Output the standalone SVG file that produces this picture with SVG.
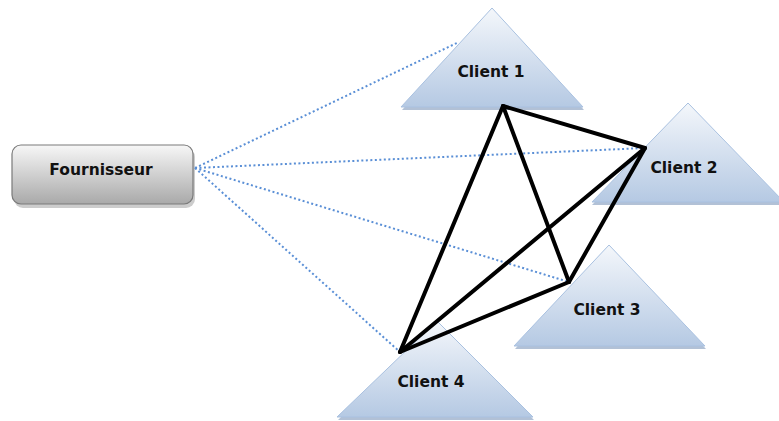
<svg xmlns="http://www.w3.org/2000/svg" width="779" height="421" viewBox="0 0 779 421">
<defs>
<linearGradient id="tri" x1="0" y1="0" x2="0" y2="1">
<stop offset="0" stop-color="#f4f7fb"/>
<stop offset="1" stop-color="#b5c9e3"/>
</linearGradient>
<linearGradient id="box" x1="0" y1="0" x2="0" y2="1">
<stop offset="0" stop-color="#f7f7f7"/>
<stop offset="1" stop-color="#a9a9a9"/>
</linearGradient>
</defs>
<style>
.t{fill:url(#tri);stroke:#a9c1e0;stroke-width:1}
.sh{fill:#9fb2cc;opacity:0.8}
.lbl{font-family:"DejaVu Sans",Verdana,sans-serif;font-weight:bold;font-size:15.5px;fill:#111;text-anchor:middle}
.dot{stroke:#5a8fd6;stroke-width:2;stroke-dasharray:2 2.5;fill:none}
.solid{stroke:#000;stroke-width:4;fill:none;stroke-linecap:round;stroke-linejoin:round}
</style>
<g id="fournisseur">
<rect x="14" y="148" width="181" height="60" rx="9" fill="#999" opacity="0.5"/>
<rect x="12" y="145" width="181" height="59" rx="9" fill="url(#box)" stroke="#7a7a7a" stroke-width="1.2"/>
<text class="lbl" x="101" y="175">Fournisseur</text>
</g>
<g id="client1">
<polygon class="sh" points="492,10 584,110 402,110"/>
<polygon class="t" points="492,8 583,107 401,107"/>
<text class="lbl" x="491" y="77">Client 1</text>
</g>
<g id="client2">
<polygon class="sh" points="688,105 785,205 592,205"/>
<polygon class="t" points="688,103 784,202 592,202"/>
<text class="lbl" x="684" y="173">Client 2</text>
</g>
<g id="client3">
<polygon class="sh" points="609,247 706,349 515,349"/>
<polygon class="t" points="609,245 705,346 514,346"/>
<text class="lbl" x="607" y="315">Client 3</text>
</g>
<g id="client4">
<polygon class="sh" points="437,323 534,420 338,420"/>
<polygon class="t" points="437,321 533,417 337,417"/>
<text class="lbl" x="431" y="387">Client 4</text>
</g>
<g id="connectors">
<line class="dot" x1="195" y1="168" x2="459" y2="42"/>
<line class="dot" x1="195" y1="168" x2="645" y2="148"/>
<line class="dot" x1="195" y1="168" x2="569" y2="282"/>
<line class="dot" x1="195" y1="168" x2="400" y2="352"/>
<line class="solid" x1="503" y1="106" x2="645" y2="148"/>
<line class="solid" x1="503" y1="106" x2="569" y2="282"/>
<line class="solid" x1="503" y1="106" x2="400" y2="352"/>
<line class="solid" x1="645" y1="148" x2="569" y2="282"/>
<line class="solid" x1="645" y1="148" x2="400" y2="352"/>
<line class="solid" x1="569" y1="282" x2="400" y2="352"/>
</g>
</svg>
